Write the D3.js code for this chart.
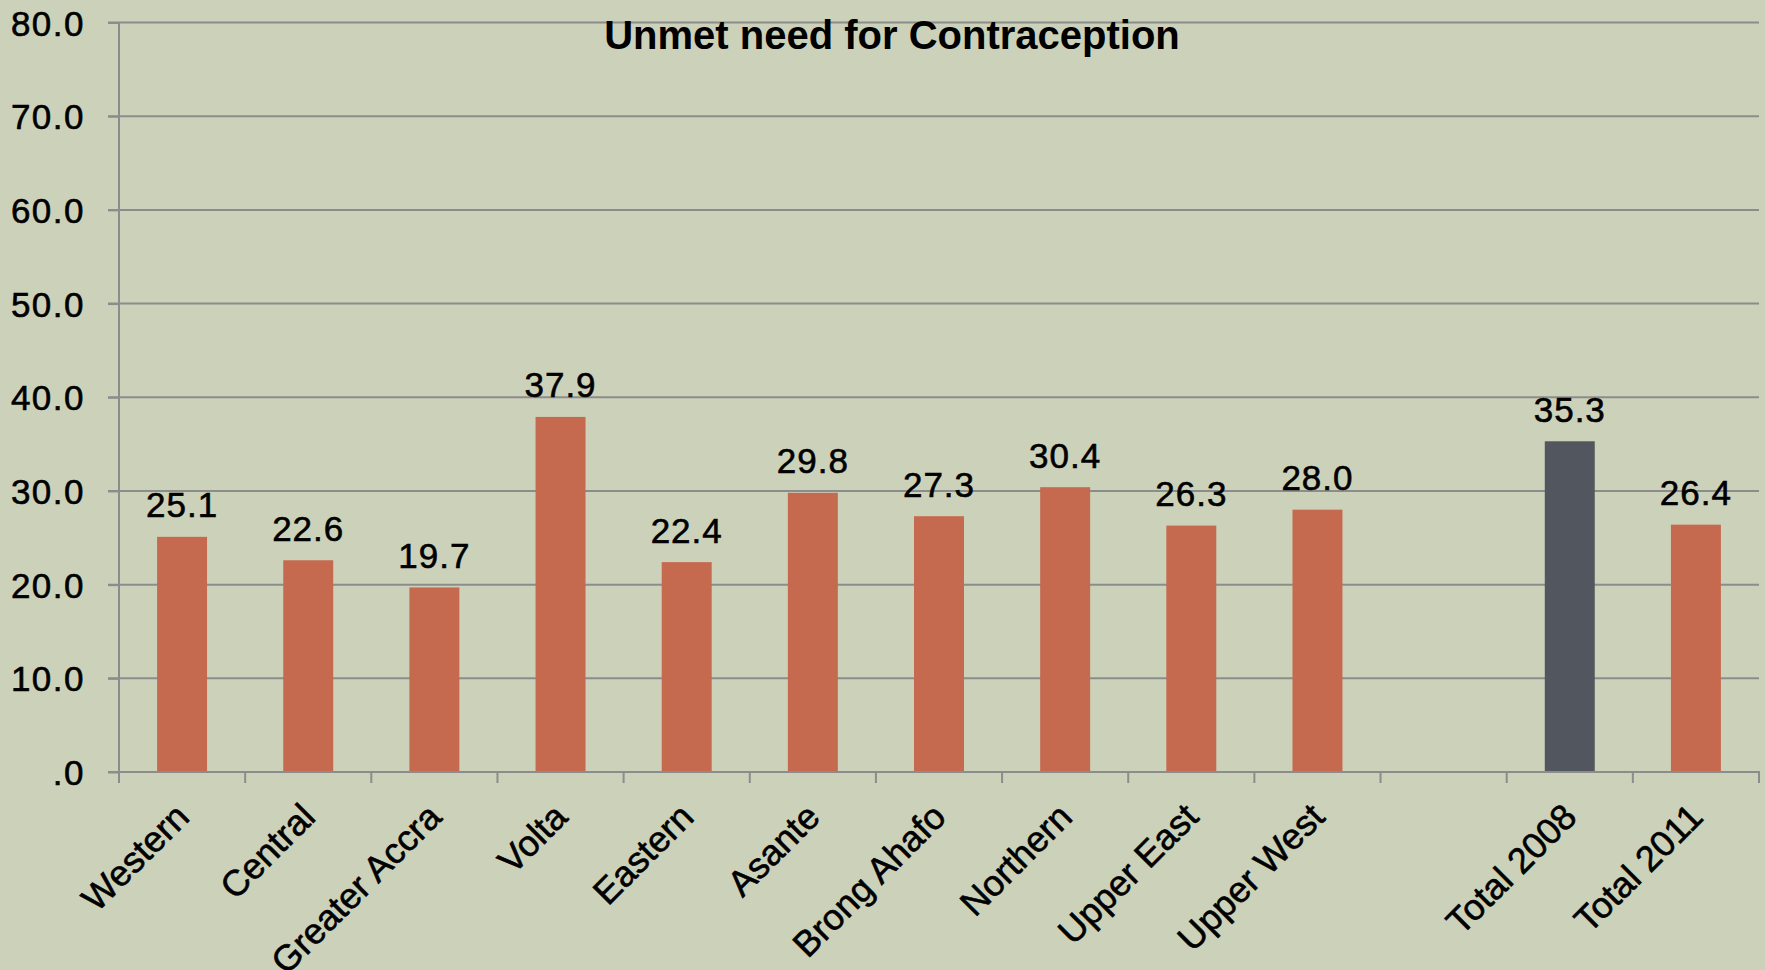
<!DOCTYPE html>
<html>
<head>
<meta charset="utf-8">
<script src="https://cdn.jsdelivr.net/npm/d3@7"></script>
<style>
	html, body { margin: 0; padding: 0; background: #CCD1B9; }
	svg { display: block; font-family: "Liberation Sans", Arial, sans-serif; }
	.lbl { fill: #000; stroke: #000; stroke-width: 0.6px; }
</style>
</head>
<body>
<div id="chart"></div>
<script>

var categories = ['Western', 'Central', 'Greater Accra', 'Volta', 'Eastern', 'Asante', 'Brong Ahafo', 'Northern', 'Upper East', 'Upper West', '', 'Total 2008', 'Total 2011'];
var values = [25.1, 22.6, 19.7, 37.9, 22.4, 29.8, 27.3, 30.4, 26.3, 28.0, null, 35.3, 26.4];
var yTicks = [0, 10, 20, 30, 40, 50, 60, 70, 80];
var title = 'Unmet need for Contraception';

var W = 1765, H = 970;
var mLeft = 119, mRight = 1759, mTop = 22.5, mBottom = 772;

var svg = d3.select('#chart').append('svg').attr('width', W).attr('height', H);

svg.append('rect').attr('width', W).attr('height', H).attr('fill', '#CCD1B9');

var idx = d3.range(categories.length);
var x = d3.scaleBand().domain(idx).range([mLeft, mRight]).paddingInner(0.604).paddingOuter(0.302);
var y = d3.scaleLinear().domain([0, 80]).range([mBottom, mTop]);
var step = x.step();

// gridlines (with the little tick stub left of the axis)
svg.append('g').selectAll('line').data(yTicks).join('line')
	.attr('x1', mLeft - 11).attr('x2', mRight)
	.attr('y1', function(d) { return y(d); }).attr('y2', function(d) { return y(d); })
	.attr('stroke', '#8C8C8C').attr('stroke-width', 2);

// y labels
var yAxis = d3.axisLeft(y).tickValues(yTicks).tickSize(11).tickPadding(23)
	.tickFormat(function(d) { return d === 0 ? '.0' : d.toFixed(1); });

var gy = svg.append('g').attr('transform', 'translate(' + mLeft + ',0)').call(yAxis);
gy.select('.domain').remove();
gy.selectAll('.tick line').attr('stroke', '#8C8C8C').attr('stroke-width', 2);
gy.selectAll('.tick text').attr('class', 'lbl').style('font-size', '35px').style('letter-spacing', '1.5px').attr('dy', '0.36em');

var shown = idx.filter(function(i) { return values[i] !== null; });

// bars
svg.append('g').selectAll('rect').data(shown).join('rect')
	.attr('x', function(i) { return x(i); })
	.attr('y', function(i) { return y(values[i]); })
	.attr('width', x.bandwidth())
	.attr('height', function(i) { return y(0) - y(values[i]); })
	.attr('fill', function(i) { return categories[i] === 'Total 2008' ? '#52565E' : '#C5694F'; });

// axis lines
svg.append('line').attr('x1', mLeft).attr('x2', mLeft).attr('y1', mTop).attr('y2', mBottom + 11)
	.attr('stroke', '#8C8C8C').attr('stroke-width', 2);
svg.append('line').attr('x1', mLeft).attr('x2', mRight + 1).attr('y1', mBottom).attr('y2', mBottom)
	.attr('stroke', '#8C8C8C').attr('stroke-width', 2);

// x boundary ticks
svg.append('g').selectAll('line').data(d3.range(categories.length + 1)).join('line')
	.attr('x1', function(i) { return mLeft + i * step; }).attr('x2', function(i) { return mLeft + i * step; })
	.attr('y1', mBottom).attr('y2', mBottom + 11)
	.attr('stroke', '#8C8C8C').attr('stroke-width', 2);

// value labels
svg.append('g').selectAll('text').data(shown).join('text')
	.attr('class', 'lbl')
	.attr('x', function(i) { return x(i) + x.bandwidth() / 2; })
	.attr('y', function(i) { return y(values[i]) - 19.5; })
	.attr('text-anchor', 'middle')
	.style('font-size', '35px')
	.style('letter-spacing', '1px')
	.text(function(i) { return values[i].toFixed(1); });

// category labels
var xAxis = d3.axisBottom(x).tickSize(0).tickFormat(function(i) { return categories[i]; });
var gx = svg.append('g').attr('transform', 'translate(0,' + mBottom + ')').call(xAxis);
gx.select('.domain').remove();
gx.selectAll('.tick text')
	.attr('class', 'lbl')
	.attr('x', 0).attr('y', 0).attr('dy', null)
	.attr('transform', 'translate(9,47) rotate(-45)')
	.attr('text-anchor', 'end')
	.style('font-size', '36px');

// title
svg.append('text')
	.attr('x', 892).attr('y', 49)
	.attr('text-anchor', 'middle')
	.style('font-size', '40px')
	.style('font-weight', 'bold')
	.attr('fill', '#000')
	.text(title);

</script>
</body>
</html>
